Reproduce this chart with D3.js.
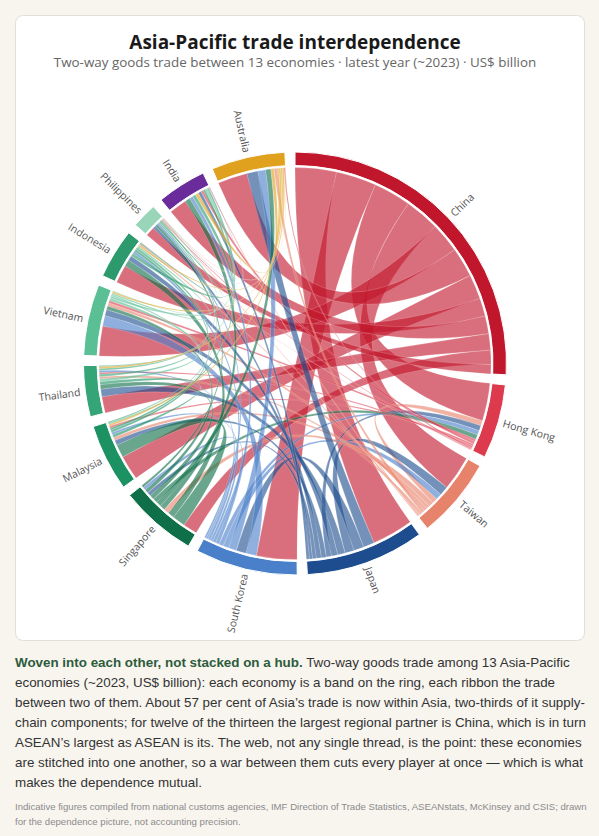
<!DOCTYPE html>
<html>
<head>
<meta charset="utf-8">
<script src="https://cdn.jsdelivr.net/npm/d3@7"></script>
<style>
  body { margin: 0; background: #f8f5ef; font-family: "Liberation Sans", Arial, sans-serif; }
  .card { position: absolute; left: 15px; top: 15px; width: 568px; height: 624px; background: #fff;
          border: 1px solid #e4dfd6; border-radius: 8px; }
  #chart { position: absolute; left: 0; top: 0; }
  .note { position: absolute; left: 15px; top: 653px; font-size: 13.4px; line-height: 20px; color: #333; white-space: nowrap; }
  .note b { color: #2d5b3c; }
  .src { position: absolute; left: 15px; top: 799px; font-size: 9.6px; line-height: 15px; color: #8b8b8b; white-space: nowrap; }
</style>
</head>
<body>
<div class="card"></div>
<svg id="chart" width="599" height="640"></svg>
<div class="note"><b>Woven into each other, not stacked on a hub.</b> Two-way goods trade among 13 Asia-Pacific<br>economies (~2023, US$ billion): each economy is a band on the ring, each ribbon the trade<br>between two of them. About 57 per cent of Asia’s trade is now within Asia, two-thirds of it supply-<br>chain components; for twelve of the thirteen the largest regional partner is China, which is in turn<br>ASEAN’s largest as ASEAN is its. The web, not any single thread, is the point: these economies<br>are stitched into one another, so a war between them cuts every player at once — which is what<br>makes the dependence mutual.</div>
<div class="src">Indicative figures compiled from national customs agencies, IMF Direction of Trade Statistics, ASEANstats, McKinsey and CSIS; drawn<br>for the dependence picture, not accounting precision.</div>
<script>
const economies = ['China', 'Hong Kong', 'Taiwan', 'Japan', 'South Korea', 'Singapore', 'Malaysia',
    'Thailand', 'Vietnam', 'Indonesia', 'Philippines', 'India', 'Australia'];

const colours = ['#c1172c', '#dd3a4e', '#e8836b', '#1d4d8e', '#4a80c9', '#0f6f48', '#1c9162',
    '#35a477', '#5bbf95', '#2d9a6d', '#98d5b9', '#6a2b9b', '#e0a21e'];

// two-way goods trade, US$ billion, symmetric
const tradeMatrix = [
    [0, 290, 268, 318, 311, 110, 190, 126, 230, 139, 72, 136, 229],
    [290, 0, 40, 40, 35, 35, 15, 15, 20, 3, 7, 20, 10],
    [268, 40, 0, 70, 45, 40, 25, 18, 25, 10, 7, 8, 23],
    [318, 40, 70, 0, 78, 30, 38, 58, 48, 38, 23, 23, 85],
    [311, 35, 45, 78, 0, 25, 20, 15, 80, 20, 15, 27, 60],
    [110, 35, 40, 30, 25, 0, 100, 35, 28, 50, 18, 40, 40],
    [190, 15, 25, 38, 20, 100, 0, 22, 13, 18, 8, 16, 14],
    [126, 15, 18, 58, 15, 35, 22, 0, 20, 18, 10, 14, 14],
    [230, 20, 25, 48, 80, 28, 13, 20, 0, 12, 6, 15, 12],
    [139, 3, 10, 38, 20, 50, 18, 18, 12, 0, 10, 25, 12],
    [72, 7, 7, 23, 15, 18, 8, 10, 6, 10, 0, 3, 3],
    [136, 20, 8, 23, 27, 40, 16, 14, 15, 25, 3, 0, 25],
    [229, 10, 23, 85, 60, 40, 14, 14, 12, 12, 3, 25, 0]
];

const svg = d3.select('#chart');
const cx = 295, cy = 363.5;
const outerR = 211.5, innerR = 198;

svg.append('text')
    .attr('x', cx).attr('y', 49)
    .attr('text-anchor', 'middle')
    .style('font-family', '"Open Sans", sans-serif')
    .style('font-weight', 700).style('font-size', '19px')
    .attr('fill', '#1a1a1a')
    .text('Asia-Pacific trade interdependence');

svg.append('text')
    .attr('x', cx).attr('y', 67)
    .attr('text-anchor', 'middle')
    .style('font-family', '"Open Sans", sans-serif')
    .style('font-size', '13.4px')
    .attr('fill', '#666')
    .text('Two-way goods trade between 13 economies · latest year (~2023) · US$ billion');

// biggest partner first inside each band
const chords = d3.chord().padAngle(0.048).sortSubgroups(d3.descending)(tradeMatrix);
const totals = chords.groups.map(d => d.value);
const colour = d3.scaleOrdinal().domain(d3.range(economies.length)).range(colours);

const arc = d3.arc().innerRadius(innerR).outerRadius(outerR);
const ribbon = d3.ribbon().radius(innerR - 2);

const g = svg.append('g').attr('transform', `translate(${cx},${cy})`);

// ribbon takes the colour of the bigger trader of the pair
g.append('g').selectAll('path').data(chords).join('path')
    .attr('d', ribbon)
    .attr('fill', d => colour(totals[d.source.index] >= totals[d.target.index] ? d.source.index : d.target.index))
    .attr('fill-opacity', 0.62)
    .attr('stroke', '#fff').attr('stroke-opacity', 0.35).attr('stroke-width', 0.5);

const group = g.append('g').selectAll('g').data(chords.groups).join('g');

group.append('path')
    .attr('d', arc)
    .attr('fill', d => colour(d.index))
    .attr('stroke', '#fff').attr('stroke-width', 1);

const midAngle = d => (d.startAngle + d.endAngle) / 2;

group.append('text')
    .attr('dy', '0.35em')
    .attr('transform', d => `rotate(${midAngle(d) * 180 / Math.PI - 90}) translate(${outerR + 5})` +
        (midAngle(d) > Math.PI ? ' rotate(180)' : ''))
    .attr('text-anchor', d => midAngle(d) > Math.PI ? 'end' : 'start')
    .style('font-family', '"Open Sans", sans-serif')
    .style('font-size', '10.5px')
    .attr('fill', '#555')
    .text(d => economies[d.index]);
</script>
</body>
</html>
